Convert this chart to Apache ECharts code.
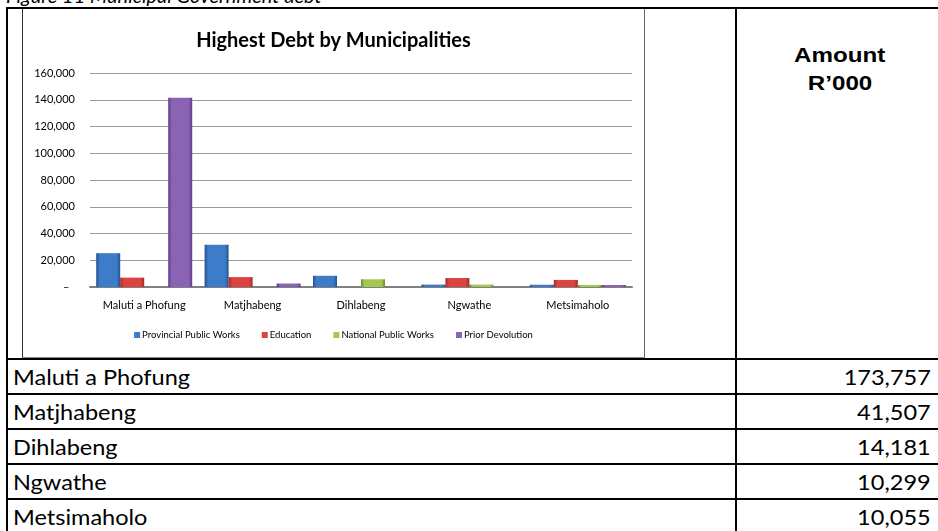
<!DOCTYPE html>
<html>
<head>
<meta charset="utf-8">
<script src="https://cdn.jsdelivr.net/npm/echarts@6/dist/echarts.min.js"></script>
<style>
  html, body { margin: 0; padding: 0; background: #fff; }
  body { width: 938px; height: 531px; position: relative; overflow: hidden; font-family: Lato, 'Open Sans', sans-serif; }
  .line { position: absolute; background: #000; }
  .caption { position: absolute; left: 6px; top: -15px; font-style: italic; font-size: 20px; line-height: 20px; white-space: nowrap; }
  .frame { position: absolute; left: 22px; top: 9px; width: 621px; height: 348px; border-left: 1px solid #333; border-right: 1px solid #666; border-bottom: 1px solid #888; }
  .head { position: absolute; left: 737px; width: 206px; text-align: center; font-family: 'Liberation Sans', Arial, sans-serif; font-weight: bold; font-size: 21px; line-height: 22px; }
  .head span { display: inline-block; transform: scaleX(1.15); }
  .cell { position: absolute; font-size: 21px; line-height: 34px; white-space: nowrap; }
  .cell span { display: inline-block; transform: scaleX(1.12); }
  .name span { transform-origin: left center; }
  .amt span { transform-origin: right center; }
</style>
</head>
<body>
<div class="caption">Figure 11 Municipal Government debt</div>
<div class="line" style="left:6px;top:7px;width:940px;height:2px"></div>
<div class="line" style="left:6px;top:7px;width:2px;height:530px"></div>
<div class="line" style="left:735px;top:7px;width:2px;height:530px"></div>
<div class="frame"><div id="chart" style="width:621px;height:348px"></div></div>
<div class="head" style="top:44px"><span>Amount</span></div>
<div class="head" style="top:72px"><span>R’000</span></div>
<div id="rows"></div>
<script>
var municipalities = ['Maluti a Phofung', 'Matjhabeng', 'Dihlabeng', 'Ngwathe', 'Metsimaholo'];
var provincialPublicWorks = [25300, 31500, 8400, 1800, 1700];
var education = [7000, 7400, 0, 6700, 5300];
var nationalPublicWorks = [0, 0, 5781, 1799, 1555];
var priorDevolution = [141457, 2607, 0, 0, 1500];
var amounts = [173757, 41507, 14181, 10299, 10055];
var seriesNames = ['Provincial Public Works', 'Education', 'National Public Works', 'Prior Devolution'];

// table rows under the chart
var rowTops = [358, 393, 428, 463, 498];
var rowsEl = document.getElementById('rows');
var html = '';
rowTops.forEach(function (t, i) {
  html += '<div class="line" style="left:6px;top:' + t + 'px;width:940px;height:2px"></div>';
  html += '<div class="cell name" style="left:13px;top:' + (t + 2) + 'px"><span>' + municipalities[i] + '</span></div>';
  html += '<div class="cell amt" style="right:7px;top:' + (t + 2) + 'px"><span>' + amounts[i].toLocaleString('en-US') + '</span></div>';
});
rowsEl.innerHTML = html;

function bevel(c1, c2) {
  return {
    type: 'linear', x: 0, y: 0, x2: 1, y2: 0,
    colorStops: [
      { offset: 0, color: c2 },
      { offset: 0.15, color: c1 },
      { offset: 0.85, color: c1 },
      { offset: 1, color: c2 }
    ]
  };
}
var colors = [
  bevel('#3d7cc9', '#24528f'),
  bevel('#dc4441', '#9e2a28'),
  bevel('#a5c84e', '#6f8c2c'),
  bevel('#8a63b4', '#5c3f82')
];
var values = [provincialPublicWorks, education, nationalPublicWorks, priorDevolution];
var legendColors = ['#3d7cc9', '#dc4441', '#a5c84e', '#8a63b4'];

var chart = echarts.init(document.getElementById('chart'));
var option = {
  animation: false,
  textStyle: { fontFamily: 'Lato, sans-serif' },
  title: {
    text: 'Highest Debt by Municipalities',
    left: 'center',
    top: 17,
    textStyle: { fontSize: 20, fontWeight: 'bold', color: '#000', fontFamily: 'Lato, sans-serif' }
  },
  legend: {
    bottom: 12,
    left: 'center',
    itemWidth: 6,
    itemHeight: 6,
    itemGap: 22,
    icon: 'rect',
    textStyle: { fontSize: 9.5, color: '#000', padding: [0, 0, 0, -3] },
    data: seriesNames.map(function (n, i) { return { name: n, itemStyle: { color: legendColors[i] } }; })
  },
  grid: { left: 67, right: 12, top: 64, height: 214 },
  xAxis: {
    type: 'category',
    data: municipalities,
    axisLine: { lineStyle: { color: '#808080', width: 2 } },
    axisTick: { show: false },
    axisLabel: { color: '#000', fontSize: 11, margin: 13 }
  },
  yAxis: {
    type: 'value',
    min: 0,
    max: 160000,
    interval: 20000,
    axisLine: { show: false },
    axisTick: { show: false },
    splitLine: { lineStyle: { color: '#9a9a9a', width: 1 } },
    axisLabel: {
      color: '#000', fontSize: 11, margin: 15,
      formatter: function (v) { return v === 0 ? '–  ' : v.toLocaleString('en-US'); }
    }
  },
  series: seriesNames.map(function (n, i) {
    return {
      name: n,
      type: 'bar',
      data: values[i],
      barWidth: 24,
      barGap: '0%',
      itemStyle: { color: colors[i] }
    };
  })
};
chart.setOption(option);
</script>
</body>
</html>
